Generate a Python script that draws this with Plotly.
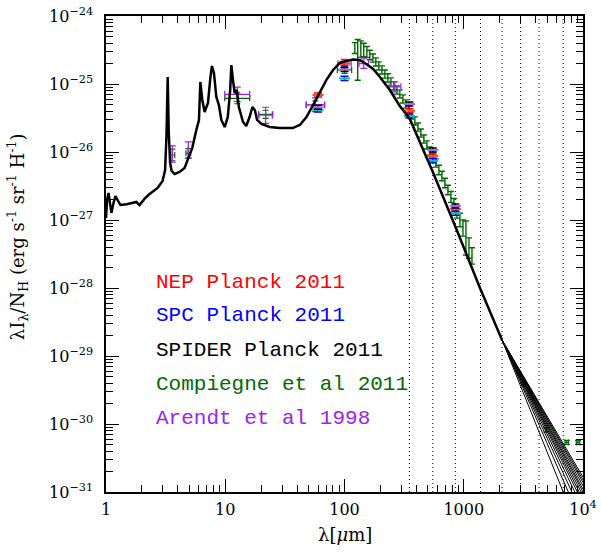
import plotly.graph_objects as go

# ---------------- data ----------------
# dust model SED (lambda in micron, lambda*I_lambda/N_H)
model_wav = [1.0, 1.02, 1.05, 1.08, 1.11, 1.156, 1.20, 1.25, 1.32, 1.49, 1.67, 1.80, 1.91, 2.10, 2.32,
             2.71, 2.98, 3.13, 3.22, 3.29, 3.36, 3.45, 3.55, 3.76, 4.14, 4.56, 4.83, 5.29, 5.72, 6.02,
             6.18, 6.42, 6.71, 7.16, 7.50, 7.73, 8.04, 8.42, 8.85, 9.27, 9.89, 10.5, 11.0, 11.25, 11.6,
             12.0, 12.5, 13.0, 14.1, 15.0, 16.0, 16.9, 17.7, 18.5, 20.1, 23.6, 28.6, 36.8, 42.2, 48.0,
             54.5, 62.1, 70.6, 80.2, 91.3, 104, 118, 134, 148, 174, 198, 240, 291, 353, 555,
             860, 1368, 2094]
model_flux = [1.07e-27, 1.97e-27, 2.5e-27, 1.66e-27, 1.27e-27, 1.78e-27, 2.25e-27, 1.97e-27, 1.66e-27, 1.7e-27,
              1.76e-27, 1.84e-27, 1.66e-27, 2.04e-27, 2.41e-27, 2.96e-27, 3.75e-27, 5.4e-27, 1.9e-26, 1.27e-25,
              1.9e-26, 6.9e-27, 5.26e-27, 4.75e-27, 5.1e-27, 5.82e-27, 7.6e-27, 1.15e-26, 2.11e-26, 2.96e-26,
              1.07e-25, 5.82e-26, 3.87e-26, 5.26e-26, 1.23e-25, 1.84e-25, 1.45e-25, 6.44e-26, 4.91e-26, 2.96e-26,
              2.33e-26, 3.27e-26, 8.16e-26, 1.9e-25, 1.15e-25, 7.37e-26, 8.16e-26, 4.59e-26, 2.76e-26, 2.41e-26,
              3.27e-26, 4.59e-26, 4.15e-26, 2.96e-26, 2.58e-26, 2.33e-26, 2.25e-26, 2.25e-26, 2.5e-26, 3.27e-26,
              4.91e-26, 7.63e-26, 1.15e-25, 1.61e-25, 2.04e-25, 2.18e-25, 2.29e-25, 2.25e-25, 2.04e-25, 1.66e-25,
              1.27e-25, 8.16e-26, 4.75e-26, 3.06e-26, 4.91e-27, 7.63e-28, 1.0e-28, 1.72e-29]

# long-wavelength family of model extrapolations (start point and values at 10^4 micron)
fan_start_wav = 2094
fan_start_flux = 1.72e-29
fan_end_wav = 10000
fan_end_flux = [1.66e-31, 1.51e-31, 1.38e-31, 1.23e-31, 1.10e-31, 1.0e-31, 8.9e-32,
                7.8e-32, 6.8e-32, 5.6e-32, 4.4e-32, 3.2e-32, 1.9e-32]

# Planck band centres (dotted lines)
band_wav = [350, 550, 850, 1382, 2096, 3000, 4283, 6818]

# Planck 2011 field measurements
planck_wav = [60, 100, 350, 550, 850]
nep_flux = [6.89e-26, 2.02e-25, 4.05e-26, 8.73e-27, 1.45e-27]
spc_flux = [4.15e-26, 1.21e-25, 3.38e-26, 7.45e-27, 1.26e-27]
spider_flux = [4.54e-26, 1.64e-25, 5.08e-26, 1.07e-26, 1.61e-27]
planck_dex = [0.03, 0.03, 0.03, 0.03, 0.03]

# Arendt et al 1998 (DIRBE)
arendt_wav = [3.6, 4.9, 12.6, 21.8, 57, 100, 145, 265]
arendt_flux = [9.35e-27, 1.07e-26, 7.06e-26, 3.47e-26, 4.95e-26, 1.98e-25, 2.0e-25, 9.1e-26]
arendt_dex = [0.12, 0.12, 0.106, 0.118, 0.10, 0.066, 0.07, 0.074]
arendt_xdex = [0.0, 0.0, 0.105, 0.056, 0.077, 0.056, 0.04, 0.049]

# Compiegne et al 2011 (photometry + WMAP)
comp_wav = [3.6, 4.9, 12.6, 21.8, 57, 100, 3190, 4920, 7310, 9090]
comp_flux = [9.04e-27, 9.57e-27, 6.16e-26, 3.58e-26, 4.91e-26, 1.61e-25, 3.87e-30, 8.17e-31, 5.35e-31, 5.35e-31]
comp_dex = [0.085, 0.07, 0.08, 0.06, 0.06, 0.05, 0.02, 0.03, 0.03, 0.03]
comp_xdex = [0.02, 0.02, 0.105, 0.06, 0.077, 0.06, 0.0, 0.0, 0.015, 0.015]

# Compiegne et al 2011 (FIRAS spectrum)
firas_wav = [122, 129, 137, 145, 154, 163, 173, 183, 194, 206, 218, 231, 245, 259, 275, 291, 309, 327, 347, 367,
             389, 413, 437, 463, 491, 520, 551, 584, 619, 656, 695, 737, 781, 827, 877, 929, 985, 1043, 1106, 1172]
firas_flux = [3.38e-25, 2.26e-25, 3.27e-25, 3.16e-25, 2.96e-25, 2.67e-25, 2.41e-25, 2.11e-25, 1.84e-25, 1.61e-25,
              1.40e-25, 1.23e-25, 1.07e-25, 9.35e-26, 8.16e-26, 7.13e-26, 6.02e-26, 5.08e-26, 4.29e-26, 3.50e-26,
              2.86e-26, 2.33e-26, 1.90e-26, 1.55e-26, 1.27e-26, 1.03e-26, 8.44e-27, 6.89e-27, 5.43e-27, 4.43e-27,
              3.50e-27, 2.76e-27, 2.18e-27, 1.72e-27, 1.31e-27, 1.0e-27, 7.63e-28, 5.43e-28, 3.87e-28, 2.96e-28]
firas_dex = [0.08, 0.3, 0.12, 0.1, 0.08, 0.07, 0.06, 0.06, 0.06, 0.06, 0.06, 0.06, 0.06, 0.06, 0.06, 0.06,
             0.06, 0.06, 0.06, 0.06, 0.06, 0.06, 0.06, 0.06, 0.06, 0.06, 0.06, 0.06, 0.07, 0.07, 0.07, 0.07,
             0.08, 0.08, 0.09, 0.1, 0.12, 0.25, 0.15, 0.12]

legend_labels = ["NEP Planck 2011", "SPC Planck 2011", "SPIDER Planck 2011",
                 "Compiegne et al 2011", "Arendt et al 1998"]

x_ticks = [1, 10, 100, 1000, 10000]
x_ticktext = ["1", "10", "100", "1000", "10<sup>4</sup>"]
y_exps = [-31, -30, -29, -28, -27, -26, -25, -24]

# ---------------- styling ----------------
RED, BLUE, BLACK, GREEN, PURPLE = "#ff0000", "#0000ff", "#000000", "#006a00", "#a020f0"
SERIF = "DejaVu Serif, Liberation Serif, serif"
MONO = "Liberation Mono, DejaVu Sans Mono, monospace"
X_RANGE = [0, 4]
Y_RANGE = [-31, -24]
Y_MIN, Y_MAX = 10.0 ** Y_RANGE[0], 10.0 ** Y_RANGE[1]


def log_err(vals, dex):
    up = [v * (10 ** d - 1) for v, d in zip(vals, dex)]
    dn = [v * (1 - 10 ** (-d)) for v, d in zip(vals, dex)]
    return up, dn


fig = go.Figure()

# dotted band lines
for b in band_wav:
    fig.add_trace(go.Scatter(x=[b, b], y=[Y_MIN, Y_MAX], mode="lines",
                             line=dict(color="black", width=1, dash="1px,3px"),
                             hoverinfo="skip", showlegend=False))


def add_points(wav, flux, dex, color, xdex=None, cap=3, thick=1.2, marker=None):
    up, dn = log_err(flux, dex)
    kw = {}
    if xdex is not None:
        xu, xd = log_err(wav, xdex)
        kw["error_x"] = dict(type="data", symmetric=False, array=xu, arrayminus=xd,
                             color=color, thickness=thick, width=cap)
    fig.add_trace(go.Scatter(
        x=wav, y=flux, mode="markers",
        marker=marker or dict(size=1, color=color),
        error_y=dict(type="data", symmetric=False, array=up, arrayminus=dn,
                     color=color, thickness=thick, width=cap),
        showlegend=False, **kw))


add_points(firas_wav, firas_flux, firas_dex, GREEN, cap=3, thick=1.4)
add_points(comp_wav, comp_flux, comp_dex, GREEN, xdex=comp_xdex, cap=3, thick=1.2)
add_points(arendt_wav, arendt_flux, arendt_dex, PURPLE, xdex=arendt_xdex, cap=3.5, thick=1.2)
for fl, col in [(nep_flux, RED), (spc_flux, BLUE), (spider_flux, BLACK)]:
    add_points(planck_wav, fl, planck_dex, col, cap=4, thick=1.5,
               marker=dict(symbol="line-ew-open", size=8, line=dict(color=col, width=2)))

# model extrapolation family
for fe in fan_end_flux:
    fig.add_trace(go.Scatter(x=[fan_start_wav, fan_end_wav], y=[fan_start_flux, fe], mode="lines",
                             line=dict(color="black", width=1), hoverinfo="skip", showlegend=False))

# main model curve
fig.add_trace(go.Scatter(x=model_wav, y=model_flux, mode="lines",
                         line=dict(color="black", width=2.5), showlegend=False))

# legend as coloured text
legend_colors = [RED, BLUE, BLACK, GREEN, PURPLE]
legend_y = [0.441, 0.370, 0.298, 0.226, 0.155]
for lab, col, yy in zip(legend_labels, legend_colors, legend_y):
    fig.add_annotation(text=lab, xref="paper", yref="paper", x=0.1, y=yy,
                       xanchor="left", yanchor="middle", showarrow=False,
                       font=dict(family=MONO, size=21, color=col))

# y-axis title
fig.add_annotation(text="λI<sub>λ</sub>/N<sub>H</sub> (erg s<sup>-1</sup> sr<sup>-1</sup> H<sup>-1</sup>)",
                   xref="paper", yref="paper", x=-0.186, y=0.536, textangle=-90,
                   xanchor="center", yanchor="middle", showarrow=False,
                   font=dict(family=SERIF, size=18, color="black"))

# x-axis title
fig.add_annotation(text="λ[<i>μ</i>m]", xref="paper", yref="paper", x=0.5, y=-0.089,
                   xanchor="center", yanchor="middle", showarrow=False,
                   font=dict(family=SERIF, size=18, color="black"))

x_minor = [k * 10 ** d for d in range(0, 4) for k in range(2, 10)]
y_minor = [k * 10.0 ** d for d in range(-31, -24) for k in range(2, 10)]

axis_common = dict(type="log", showgrid=False, zeroline=False, showline=True, linecolor="black",
                   linewidth=1.5, mirror="allticks", ticks="inside", ticklen=13, tickwidth=1,
                   tickcolor="black", automargin=False,
                   tickfont=dict(family=SERIF, size=16, color="black"))

fig.update_layout(
    width=601, height=553,
    margin=dict(l=106, r=18, t=16, b=61),
    paper_bgcolor="white", plot_bgcolor="white",
    xaxis=dict(range=X_RANGE, tickmode="array", tickvals=x_ticks, ticktext=x_ticktext,
               minor=dict(tickmode="array", tickvals=x_minor, ticks="inside", ticklen=7,
                          tickwidth=1, tickcolor="black", showgrid=False),
               ticklabelstandoff=2,
               **axis_common),
    yaxis=dict(range=Y_RANGE, tickmode="array", tickvals=[10.0 ** e for e in y_exps],
               ticktext=["10<sup>−%d</sup>" % (-e) for e in y_exps],
               minor=dict(tickmode="array", tickvals=y_minor, ticks="inside", ticklen=7,
                          tickwidth=1, tickcolor="black", showgrid=False),
               ticklabelstandoff=8,
               **axis_common),
)

fig.write_html("out.html")
